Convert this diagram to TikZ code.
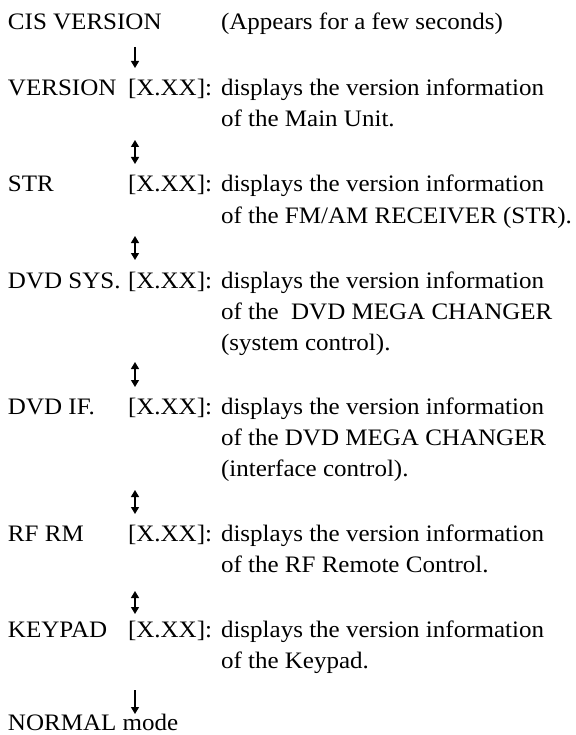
\documentclass[tikz,border=0pt]{standalone}
\usepackage{fontspec}
\setmainfont{Liberation Serif}[FakeStretch=1.06]
\usetikzlibrary{arrows.meta}
\tikzset{
  txt/.style={anchor=base west, inner sep=0pt, outer sep=0pt, font=\fontsize{23.6}{31}\selectfont},
  onearr/.style={line width=1.3pt, -{Triangle[width=8pt,length=7pt]}},
  twoarr/.style={line width=1.3pt, {Triangle[width=8pt,length=7pt]}-{Triangle[width=8pt,length=7pt]}}
}
\begin{document}
\begin{tikzpicture}[x=1pt,y=-1pt]
\useasboundingbox (0,0) rectangle (575,735);
% column positions
\def\xa{8}\def\xb{128}\def\xc{221}
% CIS
\node[txt] (cis) at (\xa,30) {CIS VERSION};
\node[txt] (cisnote) at (\xc,30) {(Appears for a few seconds)};
% VERSION
\node[txt] (ver) at (\xa,96) {VERSION};
\node[txt] (verx) at (\xb,96) {[X.XX]:};
\node[txt] (verd1) at (\xc,96) {displays the version information};
\node[txt] (verd2) at (\xc,127) {of the Main Unit.};
% STR
\node[txt] (str) at (\xa,192) {STR};
\node[txt] (strx) at (\xb,192) {[X.XX]:};
\node[txt] (strd1) at (\xc,192) {displays the version information};
\node[txt] (strd2) at (\xc,223) {of the FM/AM RECEIVER (STR).};
% DVD SYS
\node[txt] (sys) at (\xa,288) {DVD SYS.};
\node[txt] (sysx) at (\xb,288) {[X.XX]:};
\node[txt] (sysd1) at (\xc,288) {displays the version information};
\node[txt] (sysd2) at (\xc,319) {of the~ DVD MEGA CHANGER};
\node[txt] (sysd3) at (\xc,350) {(system control).};
% DVD IF
\node[txt] (dif) at (\xa,414) {DVD IF.};
\node[txt] (difx) at (\xb,414) {[X.XX]:};
\node[txt] (difd1) at (\xc,414) {displays the version information};
\node[txt] (difd2) at (\xc,445) {of the DVD MEGA CHANGER};
\node[txt] (difd3) at (\xc,476) {(interface control).};
% RF RM
\node[txt] (rf) at (\xa,541) {RF RM};
\node[txt] (rfx) at (\xb,541) {[X.XX]:};
\node[txt] (rfd1) at (\xc,541) {displays the version information};
\node[txt] (rfd2) at (\xc,572) {of the RF Remote Control.};
% KEYPAD
\node[txt] (key) at (\xa,637) {KEYPAD};
\node[txt] (keyx) at (\xb,637) {[X.XX]:};
\node[txt] (keyd1) at (\xc,637) {displays the version information};
\node[txt] (keyd2) at (\xc,668) {of the Keypad.};
% NORMAL
\node[txt] (norm) at (\xa,730) {NORMAL mode};
% arrow end points
\coordinate (a1s) at (135,47);  \coordinate (a1e) at (135,68);
\coordinate (a2s) at (135,140); \coordinate (a2e) at (135,164);
\coordinate (a3s) at (135,236); \coordinate (a3e) at (135,260);
\coordinate (a4s) at (135,362); \coordinate (a4e) at (135,387);
\coordinate (a5s) at (135,490); \coordinate (a5e) at (135,514);
\coordinate (a6s) at (135,591); \coordinate (a6e) at (135,614);
\coordinate (a7s) at (135,690); \coordinate (a7e) at (135,714);
\draw[onearr] (a1s) -- (a1e);
\draw[twoarr] (a2s) -- (a2e);
\draw[twoarr] (a3s) -- (a3e);
\draw[twoarr] (a4s) -- (a4e);
\draw[twoarr] (a5s) -- (a5e);
\draw[twoarr] (a6s) -- (a6e);
\draw[onearr] (a7s) -- (a7e);
\end{tikzpicture}
\end{document}
